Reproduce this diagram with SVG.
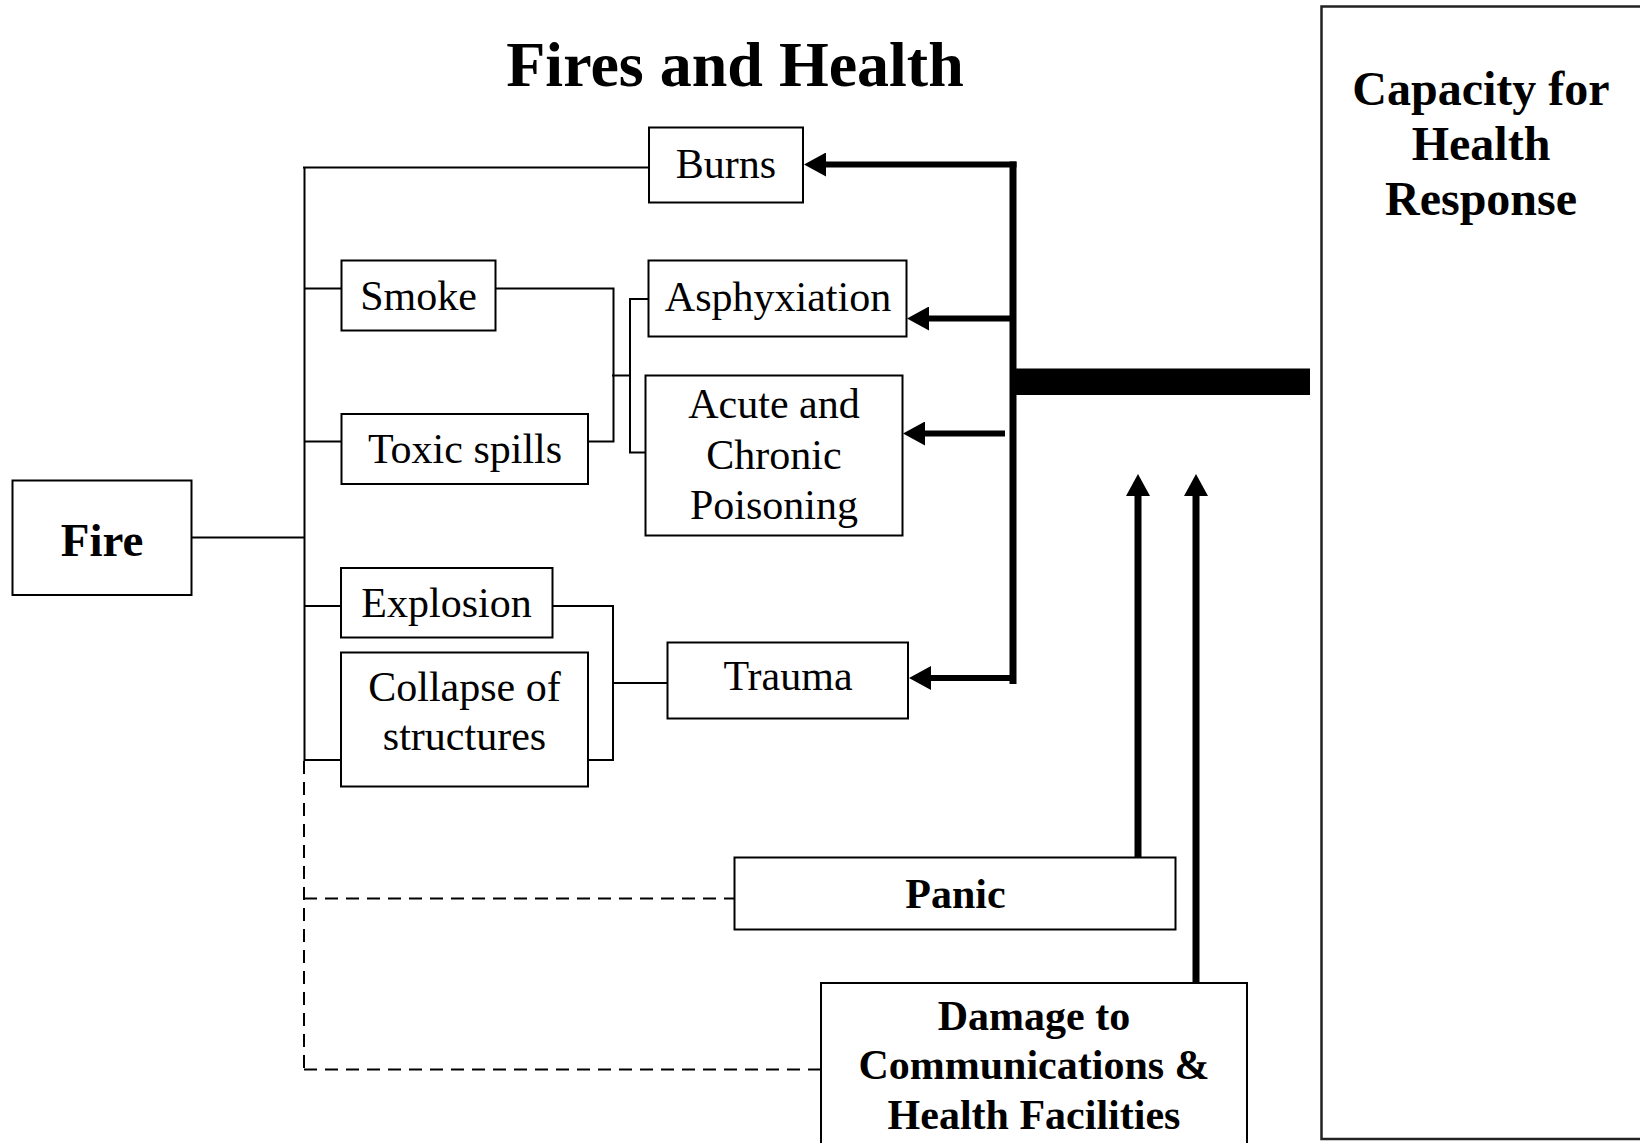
<svg xmlns="http://www.w3.org/2000/svg" width="1640" height="1143" viewBox="0 0 1640 1143">
  <style>
    .box { fill: #fff; stroke: #000; stroke-width: 2; }
    .t { font-family: "Liberation Serif", "Times New Roman", serif; font-size: 42px; fill: #000; text-anchor: middle; }
    .b { font-weight: bold; }
    .thin { fill: none; stroke: #000; stroke-width: 2; }
    .dash { fill: none; stroke: #000; stroke-width: 2; stroke-dasharray: 13 8; }
    .thick { fill: none; stroke: #000; stroke-width: 6; stroke-linejoin: miter; }
  </style>
  <defs>
    <marker id="head" viewBox="0 0 22 24" refX="0" refY="12" markerWidth="22" markerHeight="24" markerUnits="userSpaceOnUse" orient="auto">
      <path d="M0,0 L22,12 L0,24 Z" fill="#000"/>
    </marker>
  </defs>
  <rect width="1640" height="1143" fill="#fff"/>

  <text class="t b" x="735" y="86" style="font-size:64px">Fires and Health</text>

  <!-- connectors -->
  <g id="connectors">
    <!-- tree from Fire -->
    <line class="thin" x1="188" y1="537.5" x2="305" y2="537.5"/>
    <line class="thin" x1="304.5" y1="167" x2="304.5" y2="761"/>
    <line class="thin" x1="303" y1="167.5" x2="649" y2="167.5"/>
    <line class="thin" x1="304.5" y1="288.5" x2="341" y2="288.5"/>
    <line class="thin" x1="304.5" y1="441.5" x2="341" y2="441.5"/>
    <line class="thin" x1="304.5" y1="606" x2="341" y2="606"/>
    <line class="thin" x1="304.5" y1="760" x2="341" y2="760"/>
    <!-- smoke / toxic spills join -->
    <polyline class="thin" points="496,288.5 613.5,288.5 613.5,441.5 588,441.5"/>
    <line class="thin" x1="612" y1="375.5" x2="630" y2="375.5"/>
    <polyline class="thin" points="648.5,299 630,299 630,452.5 645,452.5"/>
    <!-- explosion / collapse join -->
    <polyline class="thin" points="553,606 613,606 613,760 588,760"/>
    <line class="thin" x1="613" y1="683" x2="667" y2="683"/>
    <!-- dashed links -->
    <line class="dash" x1="304" y1="761" x2="304" y2="1071"/>
    <line class="dash" x1="304" y1="898.5" x2="734" y2="898.5"/>
    <line class="dash" x1="304" y1="1069.5" x2="821" y2="1069.5"/>
    <!-- health response feedback -->
    <rect x="1013" y="368.5" width="297" height="26.5" fill="#000"/>
    <line class="thick" x1="1013" y1="684" x2="1013" y2="161.5" style="stroke-width:7"/>
    <line class="thick" x1="1016.5" y1="164.5" x2="826" y2="164.5" marker-end="url(#head)"/>
    <line class="thick" x1="1013" y1="318.5" x2="929" y2="318.5" marker-end="url(#head)"/>
    <line class="thick" x1="1005" y1="433.5" x2="925" y2="433.5" marker-end="url(#head)"/>
    <line class="thick" x1="1013" y1="678" x2="931" y2="678" marker-end="url(#head)"/>
    <line class="thick" x1="1138" y1="857" x2="1138" y2="496" style="stroke-width:7" marker-end="url(#head)"/>
    <line class="thick" x1="1196" y1="983" x2="1196" y2="496" style="stroke-width:7" marker-end="url(#head)"/>
  </g>

  <g id="fire">
    <rect class="box" x="12.5" y="480.5" width="179" height="114.5"/>
    <text class="t b" x="102" y="556" style="font-size:47px">Fire</text>
  </g>
  <g id="burns">
    <rect class="box" x="649" y="127.5" width="154" height="75"/>
    <text class="t" x="726" y="178">Burns</text>
  </g>
  <g id="smoke">
    <rect class="box" x="341.5" y="260.5" width="154" height="70"/>
    <text class="t" x="418.5" y="310">Smoke</text>
  </g>
  <g id="toxic-spills">
    <rect class="box" x="341.5" y="414" width="246.5" height="70"/>
    <text class="t" x="465" y="463">Toxic spills</text>
  </g>
  <g id="asphyxiation">
    <rect class="box" x="648.5" y="260.5" width="258" height="76"/>
    <text class="t" x="778" y="310.5">Asphyxiation</text>
  </g>
  <g id="poisoning">
    <rect class="box" x="645.5" y="375.5" width="257" height="160"/>
    <text class="t" x="774" y="418">Acute and</text>
    <text class="t" x="774" y="468.5">Chronic</text>
    <text class="t" x="774" y="519">Poisoning</text>
  </g>
  <g id="explosion">
    <rect class="box" x="341" y="568" width="211.5" height="69.5"/>
    <text class="t" x="446.5" y="617">Explosion</text>
  </g>
  <g id="collapse">
    <rect class="box" x="341" y="652.5" width="247" height="134"/>
    <text class="t" x="464.5" y="701">Collapse of</text>
    <text class="t" x="464.5" y="750">structures</text>
  </g>
  <g id="trauma">
    <rect class="box" x="667.5" y="642.5" width="240.5" height="76"/>
    <text class="t" x="788" y="690">Trauma</text>
  </g>
  <g id="panic">
    <rect class="box" x="734.5" y="857.5" width="441" height="72"/>
    <text class="t b" x="955.5" y="908">Panic</text>
  </g>
  <g id="damage">
    <rect class="box" x="821" y="983" width="426" height="175"/>
    <text class="t b" x="1034" y="1030">Damage to</text>
    <text class="t b" x="1034" y="1079">Communications &amp;</text>
    <text class="t b" x="1034" y="1128.5">Health Facilities</text>
  </g>
  <g id="capacity">
    <rect class="box" x="1321.5" y="6.5" width="330" height="1132.5" style="stroke:#222;stroke-width:2.5"/>
    <text class="t b" x="1481" y="104.5" style="font-size:48px">Capacity for</text>
    <text class="t b" x="1481" y="160" style="font-size:48px">Health</text>
    <text class="t b" x="1481" y="214.5" style="font-size:48px">Response</text>
  </g>
</svg>
